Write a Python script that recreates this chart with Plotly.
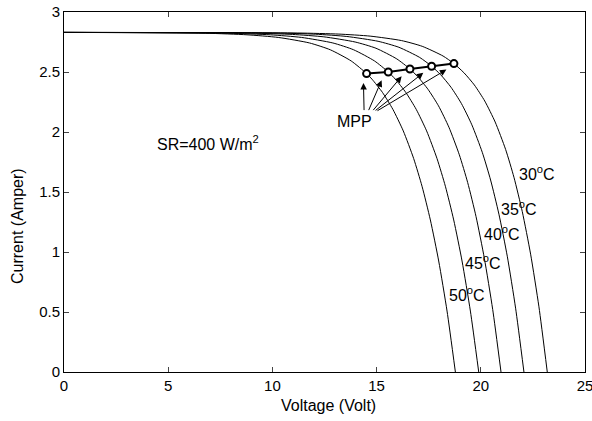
import plotly.graph_objects as go

# I-V curves (Voltage in V, Current in A)
v_30 = [0, 11.19, 13.19, 14.69, 16.19, 17.19, 18.19, 18.71, 19.19, 19.69, 20.19, 20.69, 21.19, 21.59, 21.99, 22.39, 22.79, 23.19]
i_30 = [2.83, 2.825, 2.816, 2.799, 2.762, 2.714, 2.633, 2.57, 2.494, 2.392, 2.258, 2.083, 1.855, 1.623, 1.337, 0.982, 0.543, 0.0]

v_35 = [0, 10.07, 12.07, 13.57, 15.07, 16.07, 17.07, 17.64, 18.07, 18.57, 19.07, 19.57, 20.07, 20.47, 20.87, 21.27, 21.67, 22.07]
i_35 = [2.83, 2.825, 2.815, 2.796, 2.756, 2.706, 2.621, 2.548, 2.478, 2.373, 2.237, 2.06, 1.831, 1.6, 1.315, 0.965, 0.532, 0.0]

v_40 = [0, 8.97, 10.97, 12.47, 13.97, 14.97, 15.97, 16.60, 16.97, 17.47, 17.97, 18.47, 18.97, 19.37, 19.77, 20.17, 20.57, 20.97]
i_40 = [2.83, 2.824, 2.813, 2.793, 2.75, 2.698, 2.609, 2.525, 2.462, 2.355, 2.218, 2.04, 1.81, 1.579, 1.296, 0.948, 0.522, 0.0]

v_45 = [0, 7.90, 9.90, 11.40, 12.90, 13.90, 14.90, 15.56, 15.90, 16.40, 16.90, 17.40, 17.90, 18.30, 18.70, 19.10, 19.50, 19.90]
i_45 = [2.83, 2.823, 2.81, 2.788, 2.742, 2.685, 2.592, 2.50, 2.44, 2.33, 2.189, 2.009, 1.778, 1.548, 1.267, 0.925, 0.508, 0.0]

v_50 = [0, 6.78, 8.78, 10.28, 11.78, 12.78, 13.78, 14.52, 14.78, 15.28, 15.78, 16.28, 16.78, 17.18, 17.58, 17.98, 18.38, 18.78]
i_50 = [2.83, 2.823, 2.81, 2.788, 2.742, 2.685, 2.592, 2.487, 2.44, 2.33, 2.189, 2.009, 1.778, 1.548, 1.267, 0.925, 0.508, 0.0]

# Maximum power points
mpp_v = [14.52, 15.56, 16.60, 17.64, 18.71]
mpp_i = [2.487, 2.50, 2.525, 2.548, 2.57]

# Arrow tips and tails (from the MPP label toward each point)
arrow_tip_v = [14.37, 15.24, 16.20, 17.24, 18.35]
arrow_tip_i = [2.408, 2.431, 2.464, 2.493, 2.52]
arrow_tail_v = [14.40, 14.59, 14.78, 14.88, 14.97]
arrow_tail_i = [2.17, 2.17, 2.17, 2.17, 2.17]

# Temperature labels
temp_labels = ["30<sup>o</sup>C", "35<sup>o</sup>C", "40<sup>o</sup>C", "45<sup>o</sup>C", "50<sup>o</sup>C"]
temp_label_v = [21.74, 20.87, 20.04, 19.16, 18.36]
temp_label_i = [1.66, 1.37, 1.16, 0.917, 0.648]

x_ticks = [0, 5, 10, 15, 20, 25]
y_ticks = [0, 0.5, 1, 1.5, 2, 2.5, 3]

FONT = "Liberation Sans, Arial, sans-serif"
FS = 16

fig = go.Figure()
for vv, ii in [(v_30, i_30), (v_35, i_35), (v_40, i_40), (v_45, i_45), (v_50, i_50)]:
    fig.add_trace(go.Scatter(x=vv, y=ii, mode="lines",
                             line=dict(color="black", width=1, shape="spline", smoothing=0.6),
                             showlegend=False, hoverinfo="skip"))

fig.add_trace(go.Scatter(x=mpp_v, y=mpp_i, mode="lines+markers",
                         line=dict(color="black", width=2),
                         marker=dict(symbol="circle", size=7, color="white",
                                     line=dict(color="black", width=2)),
                         showlegend=False, hoverinfo="skip"))

for tv, ti, av, ai in zip(arrow_tip_v, arrow_tip_i, arrow_tail_v, arrow_tail_i):
    fig.add_annotation(x=tv, y=ti, ax=av, ay=ai, xref="x", yref="y",
                       axref="x", ayref="y", text="", showarrow=True,
                       arrowhead=2, arrowsize=1.3, arrowwidth=1, arrowcolor="black",
                       standoff=0, startstandoff=0)

for t, tv, ti in zip(temp_labels, temp_label_v, temp_label_i):
    fig.add_annotation(x=tv, y=ti, text=t, showarrow=False, xanchor="left",
                       yanchor="middle", font=dict(family=FONT, size=FS, color="black"))

fig.add_annotation(x=13.0, y=2.09, text="MPP", showarrow=False, xanchor="left",
                   yanchor="middle", font=dict(family=FONT, size=FS, color="black"))
fig.add_annotation(x=4.37, y=1.905, text="SR=400 W/m<sup>2</sup>", showarrow=False,
                   xanchor="left", yanchor="middle",
                   font=dict(family=FONT, size=FS, color="black"))

# Axis titles as paper-anchored texts
fig.add_annotation(x=0.507, y=-0.0925, xref="paper", yref="paper", text="Voltage (Volt)",
                   showarrow=False, xanchor="center", yanchor="middle",
                   font=dict(family=FONT, size=FS, color="black"))
fig.add_annotation(x=-0.088, y=0.406, xref="paper", yref="paper", text="Current (Amper)",
                   showarrow=False, xanchor="center", yanchor="middle", textangle=-90,
                   font=dict(family=FONT, size=FS, color="black"))

fig.update_layout(
    width=592, height=421,
    margin=dict(l=64, r=7, t=12, b=49),
    paper_bgcolor="white", plot_bgcolor="white",
    font=dict(family=FONT, size=FS, color="black"),
    xaxis=dict(range=[0, 25], tickvals=x_ticks, ticks="inside", ticklen=5,
               showline=True, mirror="ticks", linecolor="black", linewidth=1,
               showgrid=False, zeroline=False, automargin=False,
               ticklabeloverflow="allow", tickfont=dict(size=15)),
    yaxis=dict(range=[0, 3], tickvals=y_ticks, ticks="inside", ticklen=5,
               showline=True, mirror="ticks", linecolor="black", linewidth=1,
               showgrid=False, zeroline=False, automargin=False,
               ticklabeloverflow="allow", tickfont=dict(size=15)),
)

fig.write_html("out.html", config={"displayModeBar": False},
               post_script="document.body.style.margin='0';")
